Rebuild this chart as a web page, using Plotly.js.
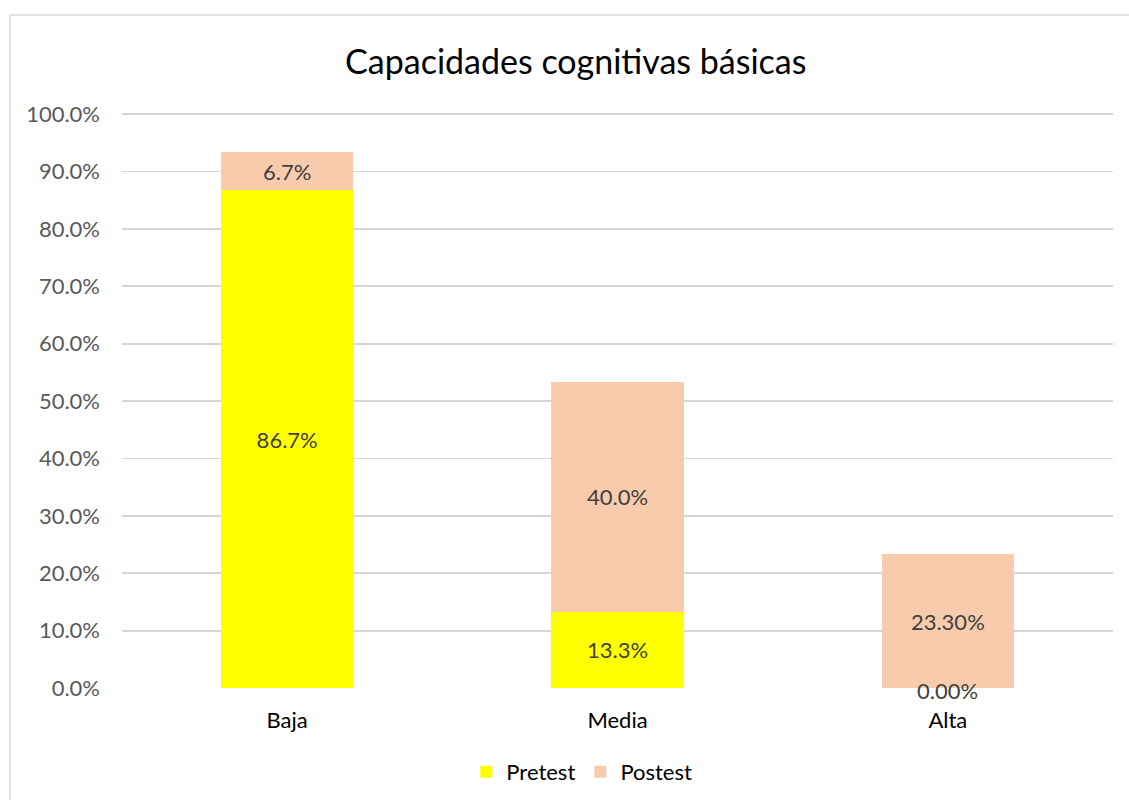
<!DOCTYPE html>
<html>
<head>
<meta charset="utf-8">
<script src="https://cdn.plot.ly/plotly-3.0.1.min.js"></script>
<style>
html,body{margin:0;padding:0;background:#fff;}
#chart{width:1129px;height:800px;}
</style>
</head>
<body>
<div id="chart"></div>
<script>
const categories = ["Baja", "Media", "Alta"];
const pretestValues = [0.867, 0.133, 0.0];
const postestValues = [0.067, 0.400, 0.233];
const pretestLabels = ["86.7%", "13.3%", "0.00%"];
const postestLabels = ["6.7%", "40.0%", "23.30%"];
const yTickValues = [0, 0.1, 0.2, 0.3, 0.4, 0.5, 0.6, 0.7, 0.8, 0.9, 1.0];
const yTickLabels = ["0.0%", "10.0%", "20.0%", "30.0%", "40.0%", "50.0%", "60.0%", "70.0%", "80.0%", "90.0%", "100.0%"];

const FONT = "Lato, 'Open Sans', sans-serif";
const labelFont = {family: FONT, size: 22, color: "#404040"};

const pretest = {
  type: "bar", name: "Pretest", x: categories, y: pretestValues,
  text: pretestLabels.map((t, i) => pretestValues[i] > 0 ? t : ""),
  textposition: "inside", insidetextanchor: "middle", textangle: 0,
  constraintext: "none", textfont: labelFont,
  marker: {color: "#FFFF00"}, hoverinfo: "none", width: 0.4
};
const postest = {
  type: "bar", name: "Postest", x: categories, y: postestValues,
  text: postestLabels,
  textposition: "inside", insidetextanchor: "middle", textangle: 0,
  constraintext: "none", textfont: labelFont,
  marker: {color: "#F8CBAD"}, hoverinfo: "none", width: 0.4
};

const zeroAnnotations = [];
pretestValues.forEach((v, i) => {
  if (v === 0) {
    zeroAnnotations.push({
      x: categories[i], y: v, xref: "x", yref: "y",
      text: pretestLabels[i], showarrow: false,
      yanchor: "middle", yshift: -2, font: labelFont
    });
  }
});

const layout = {
  width: 1129, height: 800,
  margin: {l: 122, r: 16, t: 113, b: 112, autoexpand: false},
  paper_bgcolor: "#ffffff", plot_bgcolor: "#ffffff",
  barmode: "stack", showlegend: true,
  font: {family: FONT, color: "#595959"},
  title: {
    text: "Capacidades cognitivas básicas",
    font: {family: FONT, size: 34, color: "#000000"},
    x: 0.51, xref: "container", xanchor: "center",
    y: 1 - 62/800, yref: "container", yanchor: "middle"
  },
  xaxis: {
    type: "category", showgrid: false, zeroline: false, showline: false,
    ticks: "", ticklabelstandoff: 17,
    tickfont: {family: FONT, size: 22, color: "#000000"}
  },
  yaxis: {
    range: [0, 1.002], tickvals: yTickValues, ticktext: yTickLabels,
    showgrid: true, gridcolor: "#d6d6d6", gridwidth: 1.8,
    zeroline: false, showline: false, ticks: "", ticklabelstandoff: 21,
    tickfont: {family: FONT, size: 22, color: "#595959"}
  },
  legend: {
    orientation: "h", x: 0.464, xanchor: "center",
    yref: "container", y: 1 - 772 / 800, yanchor: "middle",
    font: {family: FONT, size: 22, color: "#000000"},
    traceorder: "normal", itemclick: false
  },
  annotations: zeroAnnotations,
  shapes: [{
    type: "rect", xref: "paper", yref: "paper", layer: "below",
    x0: (10 - 122) / 991, x1: (1140 - 122) / 991,
    y0: (688 - 810) / 575, y1: (688 - 15) / 575,
    line: {color: "#d9d9d9", width: 1.5}, fillcolor: "rgba(0,0,0,0)"
  }]
};

Plotly.newPlot("chart", [pretest, postest], layout, {displayModeBar: false, staticPlot: true});
</script>
</body>
</html>
